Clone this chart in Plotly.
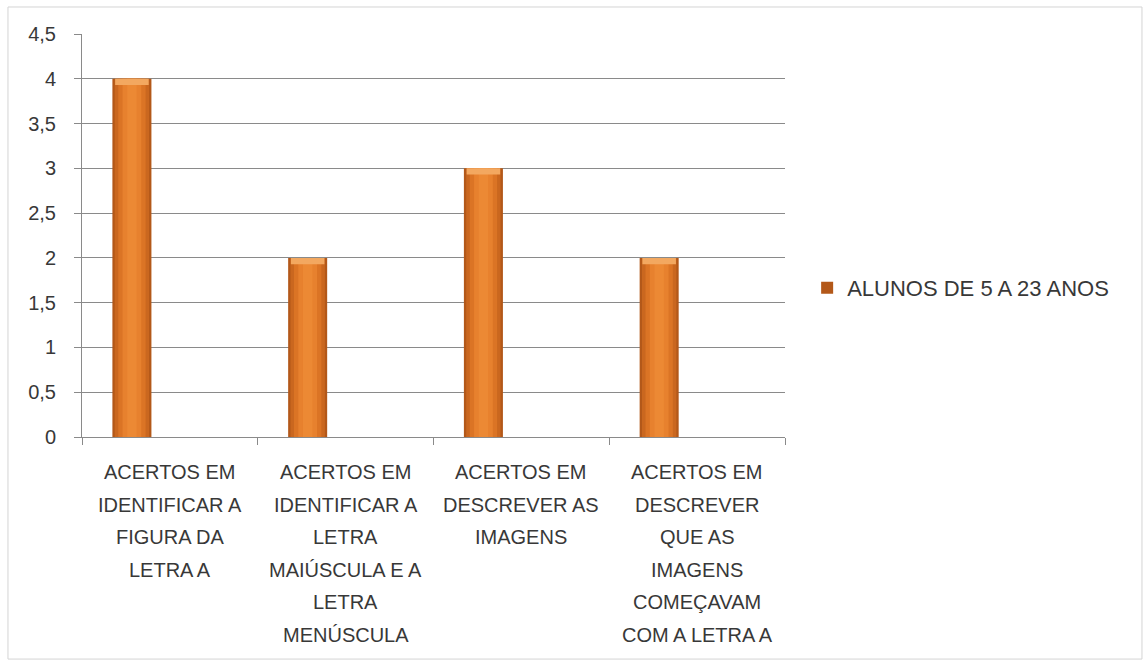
import plotly.graph_objects as go

# ---- data ----
categories = [
    "ACERTOS EM IDENTIFICAR A FIGURA DA LETRA A",
    "ACERTOS EM IDENTIFICAR A LETRA MAIÚSCULA E A LETRA MENÚSCULA",
    "ACERTOS EM DESCREVER AS IMAGENS",
    "ACERTOS EM DESCREVER QUE AS IMAGENS COMEÇAVAM COM A LETRA A",
]
category_label_lines = [
    ["ACERTOS EM", "IDENTIFICAR A", "FIGURA DA", "LETRA A"],
    ["ACERTOS EM", "IDENTIFICAR A", "LETRA", "MAIÚSCULA E A", "LETRA", "MENÚSCULA"],
    ["ACERTOS EM", "DESCREVER AS", "IMAGENS"],
    ["ACERTOS EM", "DESCREVER", "QUE AS", "IMAGENS", "COMEÇAVAM", "COM A LETRA A"],
]
values = [4, 2, 3, 2]
series_name = "ALUNOS DE 5 A 23 ANOS"
y_tick_values = [0, 0.5, 1, 1.5, 2, 2.5, 3, 3.5, 4, 4.5]

# ---- style ----
FONT = "Liberation Sans, Arial, sans-serif"
TEXT = "#383838"
GRID = "#8a8a8a"
BAR_W = 0.222
BAR_C = -0.216
layers = [
    (1.00, "#B35819"),
    (0.88, "#CA671F"),
    (0.70, "#DB7425"),
    (0.48, "#E7812E"),
    (0.24, "#EC8934"),
]

fig = go.Figure()
for k, (frac, color) in enumerate(layers):
    w = BAR_W * frac
    fig.add_trace(go.Bar(
        x=categories, y=values, name=series_name,
        width=w, offset=BAR_C - w / 2,
        marker=dict(color=color, line=dict(width=0)),
        showlegend=(k == 0), hoverinfo="skip" if k else None,
    ))
cap = 0.07
w = BAR_W * 0.86
fig.add_trace(go.Bar(
    x=categories, y=[cap] * len(values), base=[v - cap for v in values],
    width=w, offset=BAR_C - w / 2,
    marker=dict(color="#F3A860", line=dict(width=0)),
    showlegend=False, hoverinfo="skip",
))

annotations = []
for i, lines in enumerate(category_label_lines):
    for j, line in enumerate(lines):
        annotations.append(dict(
            x=categories[i], xref="x", y=0, yref="paper",
            yanchor="middle", xanchor="center",
            yshift=-35 - 32.5 * j, text=line, showarrow=False,
            font=dict(family=FONT, size=20, color=TEXT),
        ))

fig.update_layout(
    width=1143, height=666,
    margin=dict(l=82, r=358, t=34, b=229, autoexpand=False),
    paper_bgcolor="white", plot_bgcolor="white",
    barmode="overlay",
    separators=", ",
    font=dict(family=FONT, size=20, color=TEXT),
    showlegend=True,
    legend=dict(x=1.0315, xanchor="left", y=0.37, yanchor="middle",
                font=dict(family=FONT, size=22, color=TEXT),
                bgcolor="rgba(0,0,0,0)", itemwidth=30),
    annotations=annotations,
    shapes=[dict(type="rect", xref="paper", yref="paper",
                 x0=-0.1053, x1=1.5078, y0=-0.551, y1=1.067,
                 line=dict(color="#d4d4d4", width=1), layer="below")],
)
fig.update_xaxes(
    type="category", range=[-0.5, 3.5],
    showticklabels=False, showgrid=False,
    showline=True, linecolor=GRID, linewidth=1,
    ticks="outside", tickson="boundaries", ticklen=7, tickcolor=GRID,
)
fig.update_yaxes(
    range=[0, 4.5], tickvals=y_tick_values,
    showgrid=True, gridcolor=GRID, gridwidth=1,
    showline=True, linecolor=GRID, linewidth=1,
    ticks="outside", ticklen=7, tickcolor=GRID,
    ticklabelstandoff=14, zeroline=False,
    tickfont=dict(family=FONT, size=20, color=TEXT),
)

fig.write_html("out.html")
